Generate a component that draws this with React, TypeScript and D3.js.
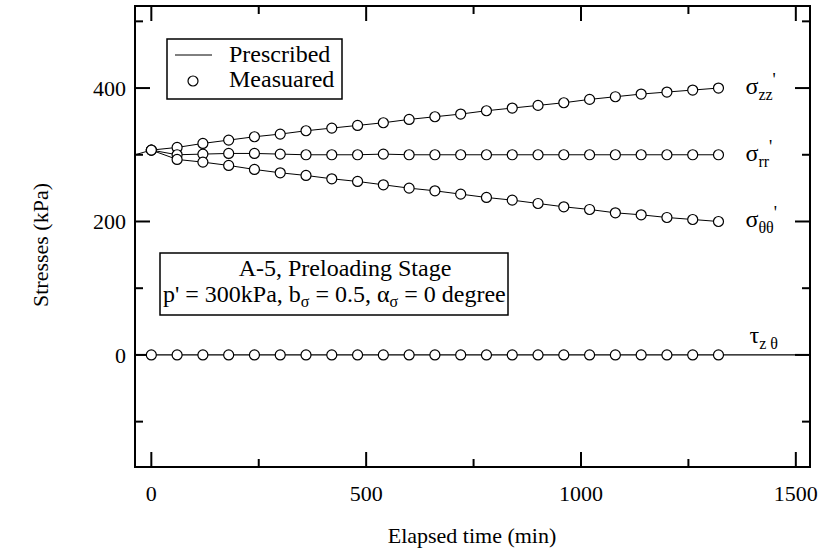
import React from 'react';
import * as d3 from 'd3';

const times = [0, 60, 120, 180, 240, 300, 360, 420, 480, 540, 600, 660, 720, 780, 840, 900, 960, 1020, 1080, 1140, 1200, 1260, 1320];
const sigmaZZ = [307, 311, 317, 322, 327, 331, 336, 340, 344, 348, 353, 357, 361, 366, 370, 374, 378, 383, 387, 391, 394, 397, 400];
const sigmaRR = [307, 300, 301, 302, 302, 301, 300, 300, 300, 301, 300, 300, 300, 300, 300, 300, 300, 300, 300, 300, 300, 300, 300];
const sigmaTT = [307, 293, 289, 284, 278, 273, 269, 264, 260, 255, 250, 246, 241, 236, 232, 227, 222, 218, 213, 210, 206, 203, 200];
const tauZT = [0, 0, 0, 0, 0, 0, 0, 0, 0, 0, 0, 0, 0, 0, 0, 0, 0, 0, 0, 0, 0, 0, 0];
const initialStress = 300;

const xTicksMajor = [0, 500, 1000, 1500];
const xTicksMinor = [250, 750, 1250];
const yTicksMajor = [0, 200, 400];
const yTicksMinor = [-100, 100, 300, 500];

const W = 819;
const H = 559;
const L = 135, R = 810, T = 6, B = 467;
const FONT = 'Liberation Serif, Times New Roman, serif';

export default function App() {
  const x = d3.scaleLinear().domain([-38, 1533]).range([L, R]);
  const y = d3.scaleLinear().domain([-168, 523]).range([B, T]);
  const line = d3.line<[number, number]>().x(d => x(d[0])).y(d => y(d[1]));

  const zip = (vals: number[]) => times.map((t, i) => [t, vals[i]] as [number, number]);
  const series = [
    { key: 'zz', vals: sigmaZZ },
    { key: 'rr', vals: sigmaRR },
    { key: 'tt', vals: sigmaTT },
    { key: 'tau', vals: tauZT },
  ];

  const [d0, d1] = x.domain();
  const rrPts: [number, number][] = [[d0, initialStress], ...zip(sigmaRR)];
  const tauPts: [number, number][] = [[d0, 0], ...zip(tauZT), [d1, 0]];

  const lastT = times[times.length - 1];
  const lx = x(lastT) + 27;

  const majorLen = 15, minorLen = 8;
  const ts = { fontFamily: FONT } as React.CSSProperties;

  return (
    <svg width={W} height={H} style={{ position: 'absolute', left: 0, top: 0, background: '#fff', fontFamily: FONT }}>
      <rect x={0} y={0} width={W} height={H} fill="#fff" />
      {/* frame */}
      <rect x={L} y={T} width={R - L} height={B - T} fill="none" stroke="#000" strokeWidth={2} />
      {/* x ticks */}
      {xTicksMajor.map(t => (
        <g key={'xm' + t}>
          <line x1={x(t)} x2={x(t)} y1={B} y2={B - majorLen} stroke="#000" strokeWidth={2} />
          <line x1={x(t)} x2={x(t)} y1={T} y2={T + majorLen} stroke="#000" strokeWidth={2} />
          <text style={ts} x={x(t)} y={B + 34} textAnchor="middle" fontSize={22}>{t}</text>
        </g>
      ))}
      {xTicksMinor.map(t => (
        <g key={'xn' + t}>
          <line x1={x(t)} x2={x(t)} y1={B} y2={B - minorLen} stroke="#000" strokeWidth={2} />
          <line x1={x(t)} x2={x(t)} y1={T} y2={T + minorLen} stroke="#000" strokeWidth={2} />
        </g>
      ))}
      {/* y ticks */}
      {yTicksMajor.map(v => (
        <g key={'ym' + v}>
          <line x1={L} x2={L + majorLen} y1={y(v)} y2={y(v)} stroke="#000" strokeWidth={2} />
          <line x1={R} x2={R - majorLen} y1={y(v)} y2={y(v)} stroke="#000" strokeWidth={2} />
          <text style={ts} x={L - 9} y={y(v) + 8} textAnchor="end" fontSize={22}>{v}</text>
        </g>
      ))}
      {yTicksMinor.map(v => (
        <g key={'yn' + v}>
          <line x1={L} x2={L + minorLen} y1={y(v)} y2={y(v)} stroke="#000" strokeWidth={2} />
          <line x1={R} x2={R - minorLen} y1={y(v)} y2={y(v)} stroke="#000" strokeWidth={2} />
        </g>
      ))}
      {/* axis titles */}
      <text style={ts} x={472} y={543} textAnchor="middle" fontSize={22}>Elapsed time (min)</text>
      <text style={ts} transform={`translate(48,245) rotate(-90)`} textAnchor="middle" fontSize={22}>Stresses (kPa)</text>

      {/* prescribed lines */}
      <path d={line(zip(sigmaZZ)) || ''} fill="none" stroke="#000" strokeWidth={1} />
      <path d={line(zip(sigmaTT)) || ''} fill="none" stroke="#000" strokeWidth={1} />
      <path d={line(rrPts) || ''} fill="none" stroke="#000" strokeWidth={1} />
      <path d={line(tauPts) || ''} fill="none" stroke="#000" strokeWidth={1.2} />

      {/* measured circles */}
      {series.map(s => (
        <g key={s.key}>
          {zip(s.vals).map(([t, v], i) => (
            <circle key={i} cx={x(t)} cy={y(v)} r={5} fill="#fff" stroke="#000" strokeWidth={1.2} />
          ))}
        </g>
      ))}

      {/* series labels */}
      <text style={ts} x={lx} y={y(sigmaZZ[sigmaZZ.length - 1]) + 6} fontSize={24}>σ<tspan fontSize={16} dy={6}>zz</tspan><tspan dy={-14} fontSize={18}>'</tspan></text>
      <text style={ts} x={lx} y={y(sigmaRR[sigmaRR.length - 1]) + 6} fontSize={24}>σ<tspan fontSize={16} dy={6}>rr</tspan><tspan dy={-14} fontSize={18}>'</tspan></text>
      <text style={ts} x={lx} y={y(sigmaTT[sigmaTT.length - 1]) + 6} fontSize={24}>σ<tspan fontSize={16} dy={6}>θθ</tspan><tspan dy={-14} fontSize={18}>'</tspan></text>
      <text style={ts} x={lx + 4} y={y(0) - 12} fontSize={24}>τ<tspan fontSize={16} dy={6}>z θ</tspan></text>

      {/* legend */}
      <rect x={167} y={39} width={175} height={60} fill="#fff" stroke="#000" strokeWidth={1.5} />
      <line x1={175} x2={212} y1={55} y2={55} stroke="#000" strokeWidth={1} />
      <text style={ts} x={229} y={62} fontSize={24}>Prescribed</text>
      <circle cx={193} cy={81} r={5} fill="#fff" stroke="#000" strokeWidth={1.2} />
      <text style={ts} x={229} y={87} fontSize={24}>Measuared</text>

      {/* annotation */}
      <rect x={160} y={253} width={348} height={62} fill="#fff" stroke="#000" strokeWidth={1.5} />
      <text style={ts} x={345} y={276} textAnchor="middle" fontSize={24}>A-5, Preloading Stage</text>
      <text style={ts} x={163} y={302} fontSize={24}>
        p' = 300kPa, b<tspan fontSize={16} dy={5}>σ</tspan><tspan dy={-5}> = 0.5, α</tspan><tspan fontSize={16} dy={5}>σ</tspan><tspan dy={-5}> = 0 degree</tspan>
      </text>
    </svg>
  );
}
